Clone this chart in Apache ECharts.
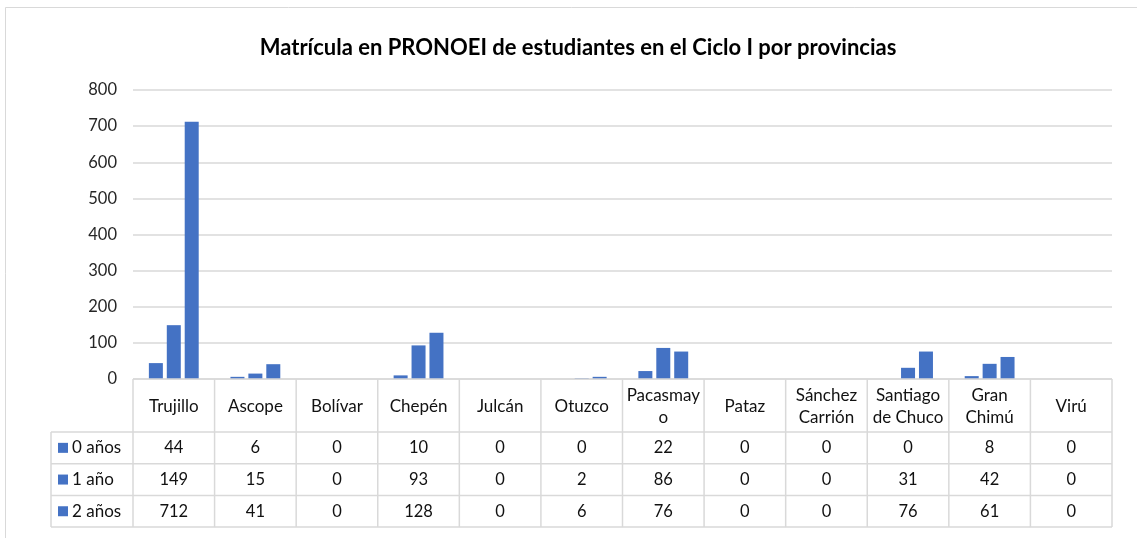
<!DOCTYPE html>
<html><head><meta charset="utf-8">
<script src="https://cdn.jsdelivr.net/npm/echarts@6/dist/echarts.min.js"></script>
<style>html,body{margin:0;padding:0;background:#fff}#c{width:1137px;height:538px}</style>
</head><body><div id="c"></div>
<script>
// ---- data ----
const categories = ['Trujillo','Ascope','Bolívar','Chepén','Julcán','Otuzco','Pacasmayo','Pataz','Sánchez Carrión','Santiago de Chuco','Gran Chimú','Virú'];
const categoryLabels = ['Trujillo','Ascope','Bolívar','Chepén','Julcán','Otuzco','Pacasmay\no','Pataz','Sánchez\nCarrión','Santiago\nde Chuco','Gran\nChimú','Virú'];
const seriesNames = ['0 años','1 año','2 años'];
const anos0 = [44, 6, 0, 10, 0, 0, 22, 0, 0, 0, 8, 0];
const ano1  = [149, 15, 0, 93, 0, 2, 86, 0, 0, 31, 42, 0];
const anos2 = [712, 41, 0, 128, 0, 6, 76, 0, 0, 76, 61, 0];
const yTicks = [0, 100, 200, 300, 400, 500, 600, 700, 800];
const titleText = 'Matrícula en PRONOEI de estudiantes en el Ciclo I por provincias';

const seriesData = [anos0, ano1, anos2];
const BLUE = '#4472C4';
const GRID = '#d9d9d9';
const FONT = 'Lato';

const chart = echarts.init(document.getElementById('c'), null, {renderer: 'canvas'});
const option = {
  animation: false,
  backgroundColor: '#fff',
  title: {
    text: titleText, left: 573, top: 32, textAlign: 'center',
    textStyle: {fontFamily: FONT, fontWeight: 'bold', fontSize: 22, color: '#000'}
  },
  grid: {left: 133, right: 25, top: 90, bottom: 159, containLabel: false},
  xAxis: {
    type: 'category', data: categories,
    axisLine: {show: false}, axisTick: {show: false}, axisLabel: {show: false}, splitLine: {show: false}
  },
  yAxis: {
    type: 'value', min: yTicks[0], max: yTicks[yTicks.length - 1], interval: yTicks[1] - yTicks[0],
    axisLine: {show: false}, axisTick: {show: false},
    axisLabel: {fontFamily: FONT, fontSize: 16.5, color: '#262626', margin: 16},
    splitLine: {lineStyle: {color: GRID, width: 1.5}}
  },
  series: seriesData.map((d, i) => ({
    name: seriesNames[i], type: 'bar', data: d, barWidth: 14, barGap: '28%',
    itemStyle: {color: BLUE}
  }))
};
chart.setOption(option);

function buildTable() {
  const n = categories.length;
  const c0 = chart.convertToPixel({xAxisIndex: 0}, 0);
  const c1 = chart.convertToPixel({xAxisIndex: 0}, 1);
  const bw = c1 - c0;
  const left = c0 - bw / 2;
  const right = left + bw * n;
  const top = chart.convertToPixel({yAxisIndex: 0}, 0);
  const headerH = 53;
  const rowH = 31.7;
  const labelLeft = 51;
  const bottom = top + headerH + rowH * seriesData.length;
  const els = [];
  const line = (x1, y1, x2, y2) => els.push({type: 'line', silent: true, z: 10,
    shape: {x1, y1, x2, y2}, style: {stroke: GRID, lineWidth: 1.5}});
  // outer chart border
  els.push({type: 'rect', silent: true, z: -1, shape: {x: 5.5, y: 7.5, width: 1200, height: 600},
    style: {fill: 'none', stroke: GRID, lineWidth: 1}});
  // horizontal lines
  line(left, top, right, top);
  for (let r = 0; r <= seriesData.length; r++) {
    const y = top + headerH + rowH * r;
    line(labelLeft, y, right, y);
  }
  // vertical lines
  for (let i = 0; i <= n; i++) {
    const x = left + bw * i;
    line(x, top, x, bottom);
  }
  line(labelLeft, top + headerH, labelLeft, bottom);
  // header labels
  categoryLabels.forEach((lab, i) => {
    els.push({type: 'text', silent: true, z: 11, x: left + bw * (i + 0.5), y: top + headerH / 2 + 1,
      style: {text: lab, align: 'center', verticalAlign: 'middle', fontFamily: FONT, fontSize: 17,
        lineHeight: 22, fill: '#111'}});
  });
  // rows
  seriesData.forEach((d, r) => {
    const yc = top + headerH + rowH * (r + 0.5);
    els.push({type: 'rect', silent: true, z: 11, shape: {x: 58, y: yc - 5, width: 10, height: 10},
      style: {fill: BLUE}});
    els.push({type: 'text', silent: true, z: 11, x: 72, y: yc,
      style: {text: seriesNames[r], align: 'left', verticalAlign: 'middle', fontFamily: FONT, fontSize: 17, fill: '#111'}});
    d.forEach((v, i) => {
      els.push({type: 'text', silent: true, z: 11, x: left + bw * (i + 0.5), y: yc,
        style: {text: String(v), align: 'center', verticalAlign: 'middle', fontFamily: FONT, fontSize: 16.5, fill: '#111'}});
    });
  });
  chart.setOption({graphic: {elements: els}});
}
buildTable();
</script>
</body></html>
